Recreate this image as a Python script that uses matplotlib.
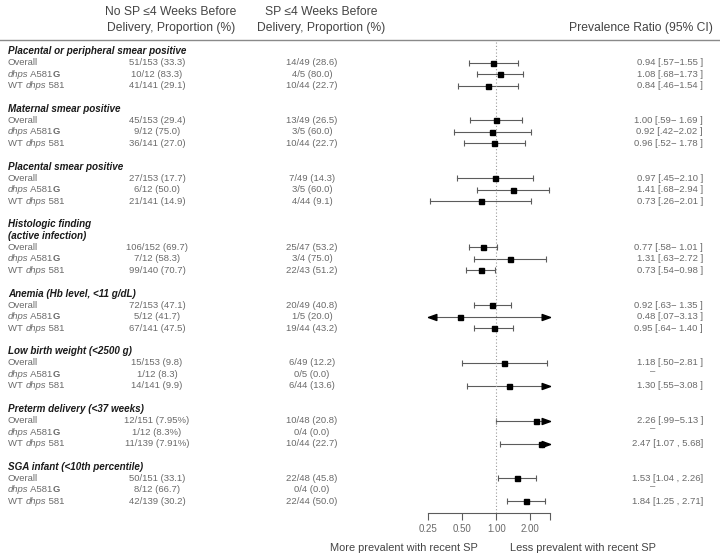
import numpy as np
import matplotlib.pyplot as plt
from matplotlib.path import Path

plt.rcParams['font.family'] = ['Liberation Sans', 'DejaVu Sans']

# ---- data ----
outcomes = ["Placental or peripheral smear positive",
            "Maternal smear positive",
            "Placental smear positive",
            "Histologic finding\n(active infection)",
            "Anemia (Hb level, <11 g/dL)",
            "Low birth weight (<2500 g)",
            "Preterm delivery (<37 weeks)",
            "SGA infant (<10th percentile)"]
# subgroup labels as (text, style, weight) pieces
subgroups = [[("Overall", 'normal', 'normal')],
             [("dhps", 'italic', 'normal'), (" A581", 'normal', 'normal'), ("G", 'normal', 'bold')],
             [("WT ", 'normal', 'normal'), ("dhps", 'italic', 'normal'), (" 581", 'normal', 'normal')]]

no_sp = ["51/153 (33.3)", "10/12 (83.3)", "41/141 (29.1)",
         "45/153 (29.4)", "9/12 (75.0)", "36/141 (27.0)",
         "27/153 (17.7)", "6/12 (50.0)", "21/141 (14.9)",
         "106/152 (69.7)", "7/12 (58.3)", "99/140 (70.7)",
         "72/153 (47.1)", "5/12 (41.7)", "67/141 (47.5)",
         "15/153 (9.8)", "1/12 (8.3)", "14/141 (9.9)",
         "12/151 (7.95%)", "1/12 (8.3%)", "11/139 (7.91%)",
         "50/151 (33.1)", "8/12 (66.7)", "42/139 (30.2)"]
sp = ["14/49 (28.6)", "4/5 (80.0)", "10/44 (22.7)",
      "13/49 (26.5)", "3/5 (60.0)", "10/44 (22.7)",
      "7/49 (14.3)", "3/5 (60.0)", "4/44 (9.1)",
      "25/47 (53.2)", "3/4 (75.0)", "22/43 (51.2)",
      "20/49 (40.8)", "1/5 (20.0)", "19/44 (43.2)",
      "6/49 (12.2)", "0/5 (0.0)", "6/44 (13.6)",
      "10/48 (20.8)", "0/4 (0.0)", "10/44 (22.7)",
      "22/48 (45.8)", "0/4 (0.0)", "22/44 (50.0)"]
pr = [0.94, 1.08, 0.84, 1.00, 0.92, 0.96, 0.97, 1.41, 0.73,
      0.77, 1.31, 0.73, 0.92, 0.48, 0.95, 1.18, np.nan, 1.30,
      2.26, np.nan, 2.47, 1.53, np.nan, 1.84]
lo = [0.57, 0.68, 0.46, 0.59, 0.42, 0.52, 0.45, 0.68, 0.26,
      0.58, 0.63, 0.54, 0.63, 0.07, 0.64, 0.50, np.nan, 0.55,
      0.99, np.nan, 1.07, 1.04, np.nan, 1.25]
hi = [1.55, 1.73, 1.54, 1.69, 2.02, 1.78, 2.10, 2.94, 2.01,
      1.01, 2.72, 0.98, 1.35, 3.13, 1.40, 2.81, np.nan, 3.08,
      5.13, np.nan, 5.68, 2.26, np.nan, 2.71]
pr_text = ["0.94 [.57\u22121.55 ]", "1.08 [.68\u22121.73 ]", "0.84 [.46\u22121.54 ]",
           "1.00 [.59\u2212 1.69 ]", "0.92 [.42\u22122.02 ]", "0.96 [.52\u2212 1.78 ]",
           "0.97 [.45\u22122.10 ]", "1.41 [.68\u22122.94 ]", "0.73 [.26\u22122.01 ]",
           "0.77 [.58\u2212 1.01 ]", "1.31 [.63\u22122.72 ]", "0.73 [.54\u22120.98 ]",
           "0.92 [.63\u2212 1.35 ]", "0.48 [.07\u22123.13 ]", "0.95 [.64\u2212 1.40 ]",
           "1.18 [.50\u22122.81 ]", "\u2013", "1.30 [.55\u22123.08 ]",
           "2.26 [.99\u22125.13 ]", "\u2013", "2.47 [1.07 , 5.68]",
           "1.53 [1.04 , 2.26]", "\u2013", "1.84 [1.25 , 2.71]"]
xticks = [0.25, 0.5, 1, 2, 3]
xticklabels = ["0.25", "0.50", "1.00", "2.00", ""]

W, H = 720, 555
fig = plt.figure(figsize=(7.2, 5.55), dpi=100)
ax = fig.add_axes([0, 0, 1, 1])
ax.set_xlim(0, W)
ax.set_ylim(H, 0)
ax.axis('off')
renderer = fig.canvas.get_renderer()

grey = '#6a6a6a'
dark = '#1a1a1a'
hcol = '#444444'
fs = 6.8

def ypos(r):
    return 51 + 11.55 * r

def parts_text(x, y, parts):
    # write pieces one after another, measuring each in pixels
    for txt, style, weight in parts:
        t = ax.text(x, y, txt, ha='left', va='center', fontsize=fs, color=grey,
                    fontstyle=style, fontweight=weight)
        bb = t.get_window_extent(renderer=renderer)
        x += bb.width

# header
ax.text(171, 12, "No SP \u22644 Weeks Before", ha='center', va='center', fontsize=8.7, color=hcol)
ax.text(171, 28, "Delivery, Proportion (%)", ha='center', va='center', fontsize=8.7, color=hcol)
ax.text(321, 12, "SP \u22644 Weeks Before", ha='center', va='center', fontsize=8.7, color=hcol)
ax.text(321, 28, "Delivery, Proportion (%)", ha='center', va='center', fontsize=8.7, color=hcol)
ax.text(713, 28, "Prevalence Ratio (95% CI)", ha='right', va='center', fontsize=8.7, color=hcol)
ax.plot([0, W], [40, 40], color='#8a8a8a', lw=1.0)

fa = fig.add_axes([428 / W, 0, (550.4 - 428) / W, 1])
fa.set_xscale('log', base=2)
fa.set_xlim(0.25, 3.0)
fa.set_ylim(H, 0)
fa.patch.set_visible(False)

xmin, xmax = 0.25, 3.0
arrow_r = Path([(0, 0), (-1, 0.36), (-1, -0.36), (0, 0)])
arrow_l = Path([(0, 0), (1, 0.36), (1, -0.36), (0, 0)])
ecol = '#5c5c5c'

row = 0
i = 0
for name in outcomes:
    for line in name.split('\n'):
        ax.text(8, ypos(row), line, ha='left', va='center', fontsize=7.1,
                fontweight='bold', fontstyle='italic', color=dark)
        row += 1
    for s in subgroups:
        y = ypos(row)
        parts_text(8, y, s)
        ax.text(157, y, no_sp[i], ha='center', va='center', fontsize=fs, color=grey)
        ax.text(312, y, sp[i], ha='center', va='center', fontsize=fs, color=grey)
        if np.isnan(pr[i]):
            ax.text(653, y - 3, pr_text[i], ha='center', va='center', fontsize=fs, color=grey)
        else:
            ax.text(703, y, pr_text[i], ha='right', va='center', fontsize=fs, color=grey)
            l = max(lo[i], xmin)
            h = min(hi[i], xmax)
            fa.plot([l, h], [y, y], color=ecol, lw=0.8, clip_on=False)
            if lo[i] < xmin:
                fa.plot([xmin], [y], marker=arrow_l, ms=12, color='black', clip_on=False)
            else:
                fa.plot([l], [y], marker='|', ms=5, mew=0.8, color=ecol, clip_on=False)
            if hi[i] > xmax:
                fa.plot([xmax], [y], marker=arrow_r, ms=12, color='black', clip_on=False)
            else:
                fa.plot([h], [y], marker='|', ms=5, mew=0.8, color=ecol, clip_on=False)
            fa.plot([pr[i]], [y], marker='s', ms=3.6, color='black', clip_on=False, zorder=5)
        i += 1
        row += 1
    row += 1

# reference line and axis
fa.plot([1, 1], [42, 513], color='#999999', lw=0.8, ls=(0, (1, 2)), clip_on=False)
for side in ['top', 'left', 'right']:
    fa.spines[side].set_visible(False)
fa.spines['bottom'].set_position(('data', 513))
fa.spines['bottom'].set_color('#5c5c5c')
fa.spines['bottom'].set_linewidth(0.8)
fa.spines['bottom'].set_bounds(0.25, 3.0)
fa.set_yticks([])
fa.set_xticks(xticks)
fa.set_xticklabels(xticklabels)
fa.minorticks_off()
fa.tick_params(axis='x', direction='out', length=5, width=0.8, color='#5c5c5c',
               labelsize=7.0, labelcolor=grey, pad=3)

ax.text(478, 548, "More prevalent with recent SP", ha='right', va='center', fontsize=7.9, color=hcol)
ax.text(510, 548, "Less prevalent with recent SP", ha='left', va='center', fontsize=7.9, color=hcol)

fig.savefig('out.png', dpi=100)
